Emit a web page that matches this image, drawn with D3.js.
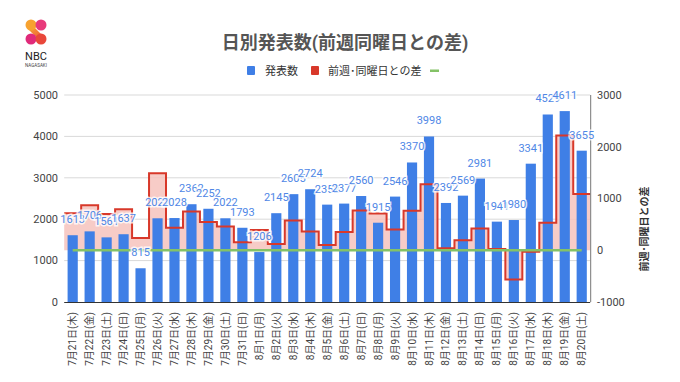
<!DOCTYPE html>
<html>
<head>
<meta charset="utf-8">
<script src="https://cdn.jsdelivr.net/npm/d3@7"></script>
<style>
  body { margin: 0; background: #fff; }
  svg text { font-family: Roboto, "Noto Sans CJK JP", sans-serif; }
</style>
</head>
<body>
<svg id="chart" width="680" height="382"></svg>
<script>
const dates = ['7月21日(木)', '7月22日(金)', '7月23日(土)', '7月24日(日)', '7月25日(月)', '7月26日(火)',
  '7月27日(水)', '7月28日(木)', '7月29日(金)', '7月30日(土)', '7月31日(日)', '8月1日(月)', '8月2日(火)',
  '8月3日(水)', '8月4日(木)', '8月5日(金)', '8月6日(土)', '8月7日(日)', '8月8日(月)', '8月9日(火)',
  '8月10日(水)', '8月11日(木)', '8月12日(金)', '8月13日(土)', '8月14日(日)', '8月15日(月)', '8月16日(火)',
  '8月17日(水)', '8月18日(木)', '8月19日(金)', '8月20日(土)'];
const counts = [1613, 1706, 1561, 1637, 815, 2022, 2028, 2362, 2252, 2022, 1793, 1206, 2145, 2605, 2724,
  2352, 2377, 2560, 1915, 2546, 3370, 3998, 2392, 2569, 2981, 1941, 1980, 3341, 4529, 4611, 3655];
const diffs = [714, 869, 700, 791, 237, 1487, 436, 749, 546, 461, 156, 391, 123, 577, 362,
  100, 355, 767, 709, 401, 765, 1274, 40, 192, 421, 26, -566, -29, 531, 2219, 1086];
const baseline = dates.map(() => 0);
const leftTicks = [0, 1000, 2000, 3000, 4000, 5000];
const rightTicks = [-1000, 0, 1000, 2000, 3000];

const title = '日別発表数(前週同曜日との差)';
const seriesNames = ['発表数', '前週･同曜日との差', ''];
const colors = { bar: '#3f7fe6', line: '#d8382a', fill: '#f6c3bd', zero: '#84c267', label: '#4f87e6' };

const svg = d3.select('#chart');
const plotTop = 95, plotBottom = 302;

const x = d3.scaleBand().domain(dates).range([64.2, 590.2]).paddingInner(0.4).paddingOuter(0.2);
const yL = d3.scaleLinear().domain([0, 5000]).range([plotBottom, plotTop]);
const yR = d3.scaleLinear().domain([-1000, 3000]).range([plotBottom, plotTop]);
const half = x.step() / 2;
const cx = d => x(d) + x.bandwidth() / 2;

// grid
svg.append('g').selectAll('line').data(leftTicks.slice(1)).join('line')
  .attr('x1', 64.2).attr('x2', 590.2)
  .attr('y1', d => yL(d)).attr('y2', d => yL(d))
  .attr('stroke', '#d9d9d9').attr('stroke-width', 1);

// left axis labels
svg.append('g').selectAll('text').data(leftTicks).join('text')
  .attr('x', 58).attr('y', d => yL(d)).attr('dy', '0.35em')
  .attr('text-anchor', 'end').attr('font-size', 11).attr('fill', '#444')
  .text(d => d);

// right axis labels
svg.append('g').selectAll('text').data(rightTicks).join('text')
  .attr('x', 597).attr('y', d => yR(d)).attr('dy', '0.35em')
  .attr('font-size', 11).attr('fill', '#444')
  .text(d => d);

// stepped area
const stepPts = [];
dates.forEach((d, i) => {
  stepPts.push([cx(d) - half, diffs[i]]);
  stepPts.push([cx(d) + half, diffs[i]]);
});
svg.append('path').datum(stepPts)
  .attr('fill', colors.fill).attr('opacity', 0.85)
  .attr('d', d3.area().x(p => p[0]).y0(yR(0)).y1(p => yR(p[1])));

// bars
svg.append('g').selectAll('rect').data(counts).join('rect')
  .attr('x', (d, i) => x(dates[i])).attr('width', x.bandwidth())
  .attr('y', d => yL(d)).attr('height', d => yL(0) - yL(d))
  .attr('fill', colors.bar);

// step line
svg.append('path').datum(stepPts)
  .attr('fill', 'none').attr('stroke', colors.line).attr('stroke-width', 2)
  .attr('d', d3.line().x(p => p[0]).y(p => yR(p[1])));

// zero line series
svg.append('path').datum(baseline)
  .attr('fill', 'none').attr('stroke', colors.zero).attr('stroke-width', 2.5)
  .attr('d', d3.line().x((d, i) => cx(dates[i])).y(d => yR(d)));

// axes lines
svg.append('line').attr('x1', 64.2).attr('x2', 590.2).attr('y1', plotBottom + 0.5).attr('y2', plotBottom + 0.5)
  .attr('stroke', '#333');
svg.append('line').attr('x1', 590.7).attr('x2', 590.7).attr('y1', plotTop).attr('y2', plotBottom)
  .attr('stroke', '#777');

// bar value labels
svg.append('g').selectAll('text').data(counts).join('text')
  .attr('x', (d, i) => cx(dates[i])).attr('y', d => yL(d) - 12)
  .attr('text-anchor', 'middle').attr('font-size', 11).attr('fill', colors.label)
  .attr('stroke', '#fff').attr('stroke-width', 3).attr('stroke-opacity', 0.8)
  .attr('paint-order', 'stroke')
  .text(d => d);

// x labels
svg.append('g').selectAll('text').data(dates).join('text')
  .attr('transform', d => `translate(${cx(d)},312) rotate(-90)`)
  .attr('dy', '0.35em').attr('text-anchor', 'end')
  .attr('font-size', 10).attr('fill', '#444')
  .text(d => d);

// right axis title
svg.append('text')
  .attr('transform', 'translate(648,229) rotate(-90)')
  .attr('text-anchor', 'middle').attr('font-size', 10).attr('font-weight', 'bold').attr('fill', '#333')
  .text(seriesNames[1]);

// title
svg.append('text').attr('x', 345).attr('y', 49).attr('text-anchor', 'middle')
  .attr('font-size', 18).attr('font-weight', 'bold').attr('fill', '#555')
  .text(title);

// legend
const lg = svg.append('g').attr('font-size', 11).attr('fill', '#333');
lg.append('rect').attr('x', 247).attr('y', 66).attr('width', 8).attr('height', 9).attr('rx', 1).attr('fill', colors.bar);
lg.append('text').attr('x', 265).attr('y', 75).text(seriesNames[0]);
lg.append('rect').attr('x', 311).attr('y', 66).attr('width', 8).attr('height', 9).attr('rx', 1).attr('fill', colors.line);
lg.append('text').attr('x', 328).attr('y', 75).text(seriesNames[1]);
lg.append('rect').attr('x', 430).attr('y', 69.5).attr('width', 9).attr('height', 2.5).attr('fill', colors.zero);

// logo
const logo = svg.append('g').attr('transform', 'translate(36,32)');
const grad = svg.append('defs').append('linearGradient').attr('id', 'lg1')
  .attr('x1', 0).attr('y1', 0).attr('x2', 1).attr('y2', 1);
grad.append('stop').attr('offset', 0).attr('stop-color', '#f9b233');
grad.append('stop').attr('offset', 1).attr('stop-color', '#e9443a');
logo.append('path').attr('d', 'M-5,-8 L9,6 L5,10 L-9,-4 Z').attr('fill', 'url(#lg1)');
logo.append('circle').attr('cx', -5).attr('cy', -7).attr('r', 5.5).attr('fill', '#f7a230');
logo.append('circle').attr('cx', 5).attr('cy', -7).attr('r', 5.5).attr('fill', '#e83a7b');
logo.append('circle').attr('cx', -5).attr('cy', 7).attr('r', 5.5).attr('fill', '#e02a7a');
logo.append('circle').attr('cx', 5).attr('cy', 7).attr('r', 5.5).attr('fill', '#e9473a');
svg.append('text').attr('x', 36).attr('y', 60).attr('text-anchor', 'middle')
  .attr('font-size', 11).attr('fill', '#222').text('NBC');
svg.append('text').attr('x', 36).attr('y', 67).attr('text-anchor', 'middle')
  .attr('font-size', 4.5).attr('fill', '#444').text('NAGASAKI');
</script>
</body>
</html>
